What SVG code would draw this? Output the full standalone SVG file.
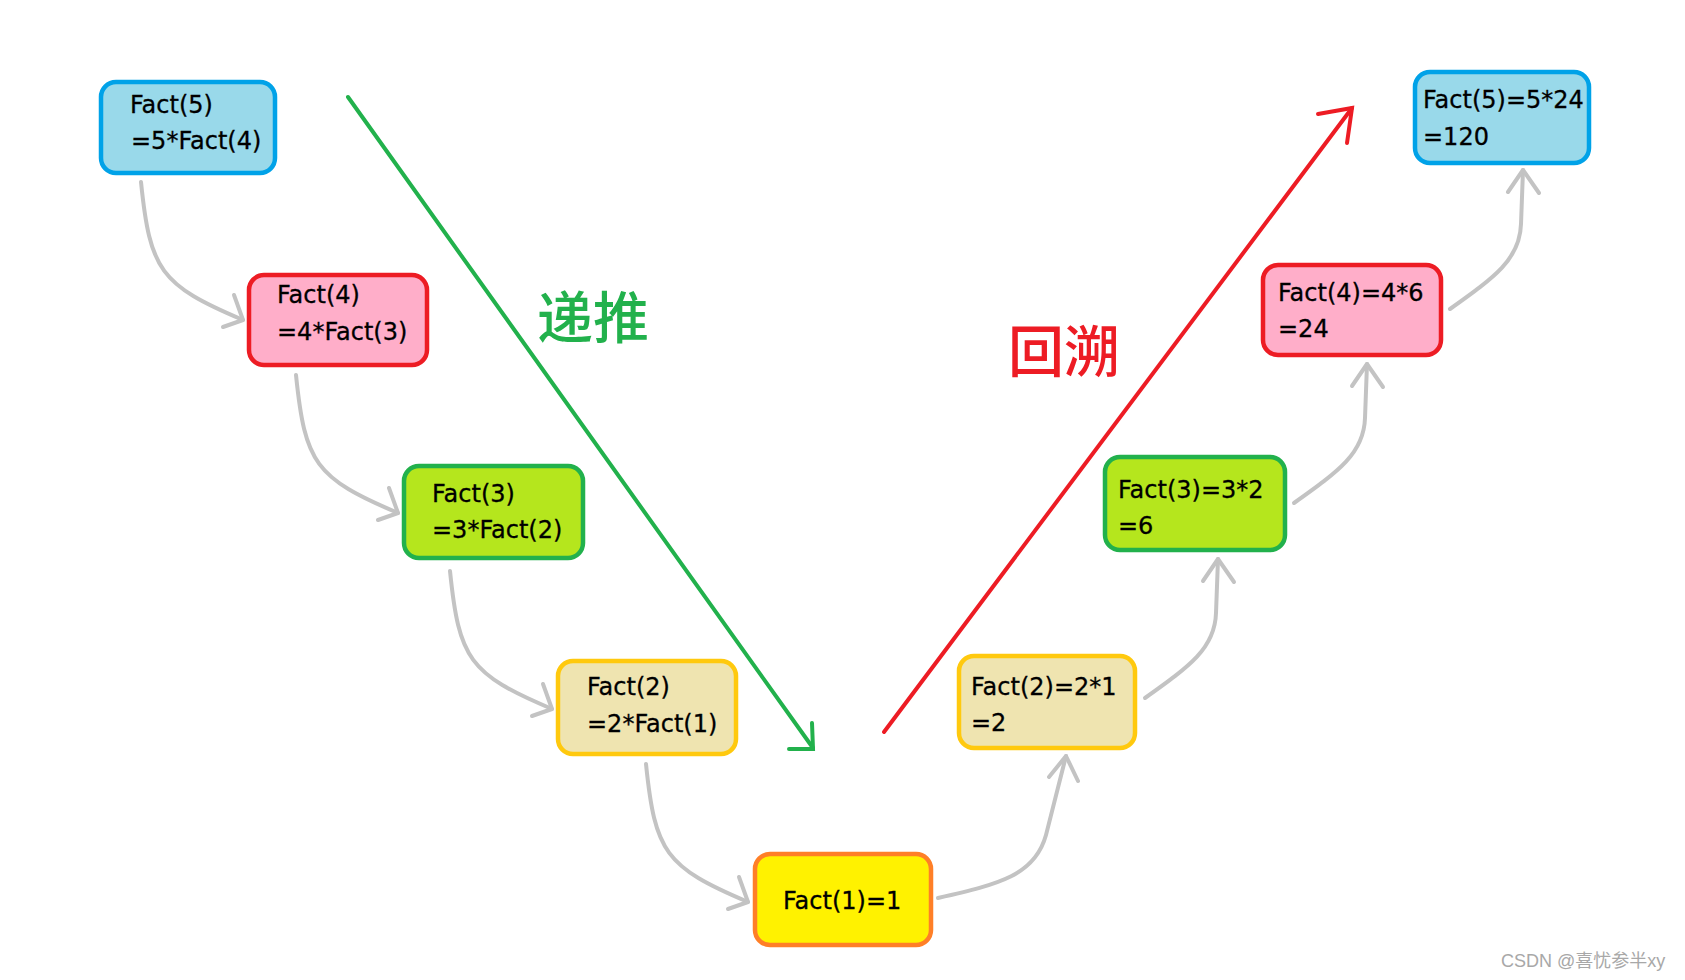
<svg xmlns="http://www.w3.org/2000/svg" xmlns:xlink="http://www.w3.org/1999/xlink" width="1685" height="980" viewBox="0 0 1685 980">
<style>
.box{stroke-width:4.5}
.blue{fill:#99d9ea;stroke:#00a2e8}
.pink{fill:#ffaec9;stroke:#ed1c24}
.lime{fill:#b5e61d;stroke:#22b14c}
.tan{fill:#efe4b0;stroke:#ffc90e}
.yel{fill:#fff200;stroke:#ff7f27}
.t{font-family:"DejaVu Sans","Noto Sans",sans-serif;font-size:24px;fill:#000;stroke:#000;stroke-width:0.3}
.conn{fill:none;stroke:#c3c3c3;stroke-width:4;stroke-linecap:round;stroke-linejoin:round}
.cn{font-family:"Noto Sans CJK SC","Noto Sans CJK JP",sans-serif;font-size:56px;font-weight:500}
.wm{font-family:"Liberation Sans","Noto Sans CJK SC",sans-serif;font-size:18px;fill:#a8a8a8}
</style>
<defs>
<g id="down">
<path class="conn" d="M0,0 C9,88 19,103 102,138"/>
<path class="conn" d="M93,113 L102,138 L82,145"/>
</g>
<g id="up">
<path class="conn" d="M0,0 C45,-32 70,-50 71,-85 L73,-139"/>
<path class="conn" d="M58,-117 L73,-139 L89,-116"/>
</g>
</defs>
<rect width="1685" height="980" fill="#ffffff"/>

<g id="connectors">
<use xlink:href="#down" x="141" y="182"/>
<use xlink:href="#down" x="296" y="375"/>
<use xlink:href="#down" x="450" y="571"/>
<use xlink:href="#down" x="646" y="764"/>
<path class="conn" d="M938,898 C1000,884 1035,875 1046,835 L1066,756"/>
<path class="conn" d="M1049,777 L1066,756 L1078,781"/>
<use xlink:href="#up" x="1145" y="698"/>
<use xlink:href="#up" x="1294" y="503"/>
<use xlink:href="#up" x="1450" y="309"/>
<path d="M348,97 L813,748" fill="none" stroke="#22b14c" stroke-width="4" stroke-linecap="round"/>
<path d="M812,723 L813,749 L789,749" fill="none" stroke="#22b14c" stroke-width="4" stroke-linecap="round"/>
<path d="M884,732 L1352,108" fill="none" stroke="#ed1c24" stroke-width="4" stroke-linecap="round"/>
<path d="M1318,114 L1352,108 L1347,143" fill="none" stroke="#ed1c24" stroke-width="4" stroke-linecap="round"/>
</g>

<g id="n-l5">
<rect class="box blue" x="101" y="82" width="174" height="91" rx="15"/>
<text class="t" x="130" y="113">Fact(5)</text>
<text class="t" x="131" y="149">=5*Fact(4)</text>
</g>
<g id="n-l4">
<rect class="box pink" x="249" y="275" width="178" height="90" rx="15"/>
<text class="t" x="277" y="303">Fact(4)</text>
<text class="t" x="277" y="340">=4*Fact(3)</text>
</g>
<g id="n-l3">
<rect class="box lime" x="404" y="466" width="179" height="92" rx="15"/>
<text class="t" x="432" y="502">Fact(3)</text>
<text class="t" x="432" y="538">=3*Fact(2)</text>
</g>
<g id="n-l2">
<rect class="box tan" x="558" y="661" width="178" height="93" rx="15"/>
<text class="t" x="587" y="695">Fact(2)</text>
<text class="t" x="587" y="732">=2*Fact(1)</text>
</g>
<g id="n-f1">
<rect class="box yel" x="755" y="854" width="176" height="91" rx="15"/>
<text class="t" x="783" y="909">Fact(1)=1</text>
</g>
<g id="n-r2">
<rect class="box tan" x="959" y="656" width="176" height="92" rx="15"/>
<text class="t" x="971" y="695">Fact(2)=2*1</text>
<text class="t" x="971" y="731">=2</text>
</g>
<g id="n-r3">
<rect class="box lime" x="1105" y="457" width="180" height="93" rx="15"/>
<text class="t" x="1118" y="498">Fact(3)=3*2</text>
<text class="t" x="1118" y="534">=6</text>
</g>
<g id="n-r4">
<rect class="box pink" x="1263" y="265" width="178" height="90" rx="15"/>
<text class="t" x="1278" y="301">Fact(4)=4*6</text>
<text class="t" x="1278" y="337">=24</text>
</g>
<g id="n-r5">
<rect class="box blue" x="1415" y="72" width="174" height="91" rx="15"/>
<text class="t" x="1423" y="108">Fact(5)=5*24</text>
<text class="t" x="1423" y="145">=120</text>
</g>

<g id="labels">
<text class="cn" x="537" y="338" fill="#22b14c">递推</text>
<text class="cn" x="1008" y="372" fill="#ed1c24">回溯</text>
<text class="wm" x="1501" y="967">CSDN @喜忧参半xy</text>
</g>
</svg>
